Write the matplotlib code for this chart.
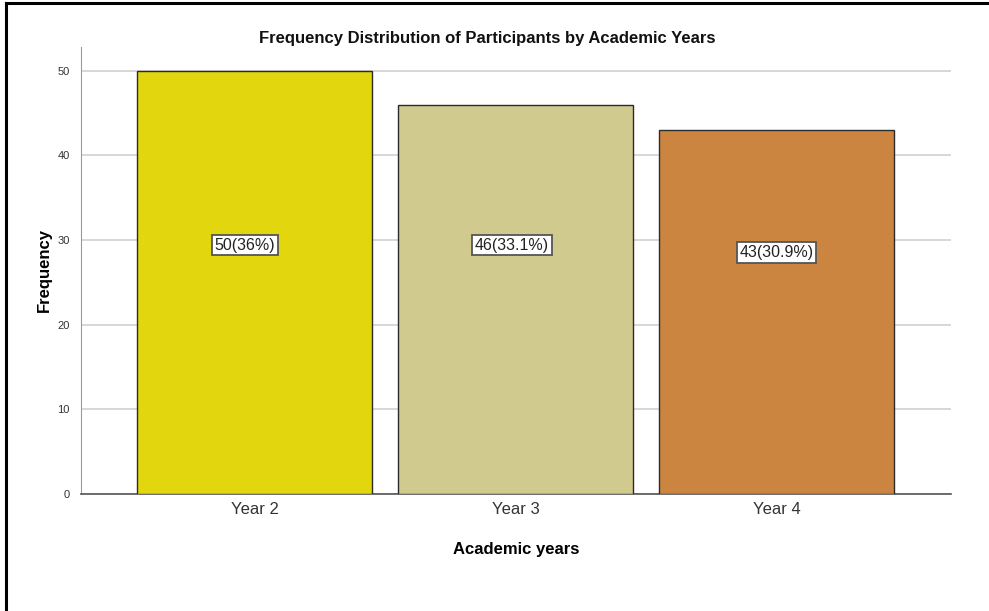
import matplotlib
matplotlib.use("Agg")
import matplotlib.pyplot as plt
from matplotlib.lines import Line2D
import numpy as np

plt.rcParams['font.family'] = ['Liberation Sans', 'DejaVu Sans']

years = ["Year 2", "Year 3", "Year 4"]
counts = [50, 46, 43]
pct_labels = ["50(36%)", "46(33.1%)", "43(30.9%)"]
bar_colors = ["#E2D70F", "#D1CA8E", "#CC8540"]

fig = plt.figure(figsize=(9.89, 6.11), dpi=100)
ax = fig.add_axes([0.0819, 0.1915, 0.8797, 0.7316])

x = np.arange(len(years))
ax.bar(x, counts, width=0.9, color=bar_colors, edgecolor="#2b2b2b", linewidth=1.0, zorder=3)

# label boxes (SPSS puts them roughly in the middle of the plot)
label_y = [29.4, 29.4, 28.5]
label_dx = [-0.036, -0.013, 0.0]
for xi, lab, ly, dx in zip(x, pct_labels, label_y, label_dx):
    ax.text(xi + dx, ly, lab, ha="center", va="center", fontsize=11.5, color="#222222", zorder=5,
            bbox=dict(boxstyle="square,pad=0.17", facecolor="white", edgecolor="#555555", linewidth=1.3))

ax.set_xlim(-0.665, 2.669)
ax.set_ylim(0, 52.8)
ax.set_yticks([0, 10, 20, 30, 40, 50])
ax.set_xticks(x)
ax.set_xticklabels(years, fontsize=12, color="#333333")
ax.tick_params(axis="y", labelsize=8, length=0, pad=8, colors="#333333")
ax.tick_params(axis="x", length=0, pad=6)
ax.grid(axis="y", color="#d4d4d4", linewidth=1.3, zorder=0)
ax.set_axisbelow(True)

for s in ["top", "right"]:
    ax.spines[s].set_visible(False)
ax.spines["left"].set_color("#9a9a9a")
ax.spines["bottom"].set_color("#555555")
ax.spines["bottom"].set_linewidth(1.2)

ax.set_xlabel("Academic years", fontsize=12, fontweight="bold", labelpad=18)
ax.set_ylabel("Frequency", fontsize=12, fontweight="bold", labelpad=4)

fig.text(0.493, 1 - 38 / 611, "Frequency Distribution of Participants by Academic Years",
         ha="center", va="center", fontsize=12, fontweight="bold", color="#111111")

# outer frame (left and top only visible)
fig.add_artist(Line2D([6 / 989, 6 / 989], [0, 1 - 3 / 611], color="black", linewidth=2.2))
fig.add_artist(Line2D([6 / 989, 1], [1 - 3 / 611, 1 - 3 / 611], color="black", linewidth=2.2))

fig.savefig("out.png", dpi=100)
